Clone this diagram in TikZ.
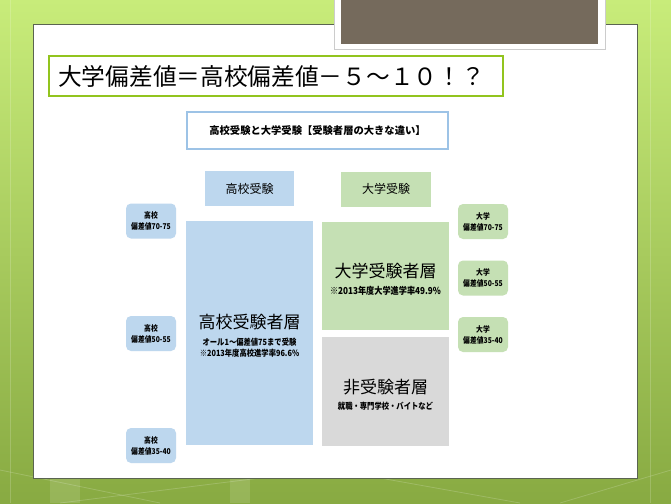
\documentclass[tikz,border=0pt]{standalone}
\usepackage{fontspec}
\setmainfont{Noto Sans CJK JP}
\newfontfamily\jp{Noto Sans CJK JP}
\newfontfamily\jpn[FakeStretch=0.85]{Noto Sans CJK JP}
\definecolor{bgtop}{RGB}{200,236,122}
\definecolor{bgbot}{RGB}{136,170,66}
\definecolor{bluefill}{RGB}{189,215,238}
\definecolor{greenfill}{RGB}{197,224,180}
\definecolor{greyfill}{RGB}{217,217,217}
\definecolor{hdrline}{RGB}{157,195,230}
\definecolor{titleline}{RGB}{146,196,30}
\definecolor{darkfill}{RGB}{117,106,92}
\definecolor{panelline}{RGB}{90,100,80}
\begin{document}
\begin{tikzpicture}[x=1pt,y=-1pt,
  box/.style={inner sep=0pt, outer sep=0pt, anchor=north west},
  panel/.style={box, fill=white, draw=panelline, line width=0.8pt},
  frame/.style={box, fill=white, draw=black!20, line width=0.6pt},
  dark/.style={box, fill=darkfill},
  titlebox/.style={box, fill=white, draw=titleline, line width=2.6pt},
  hdrbox/.style={inner sep=0pt, fill=white, draw=hdrline, line width=1.4pt, minimum width=261pt, minimum height=37pt, font=\jp\bfseries\fontsize{10.3}{12}\selectfont},
  collabel/.style={inner sep=0pt, minimum height=35pt, font=\jp\fontsize{12}{14}\selectfont},
  bigtitle/.style={inner sep=0pt, font=\jp\fontsize{17}{20}\selectfont},
  subtext/.style={inner sep=0pt, font=\jpn\bfseries\fontsize{8.6}{10}\selectfont},
  smallbox/.style={inner sep=0pt, rounded corners=5pt, minimum width=50pt, minimum height=35pt, align=center, font=\jpn\bfseries\fontsize{8}{11}\selectfont}
]
\useasboundingbox (0,0) rectangle (671,503);
\shade[top color=bgtop, bottom color=bgbot] (0,0) rectangle (671,503);
% faint background streaks
\begin{scope}[white, opacity=0.18, line width=0.8pt]
  \draw (0,470) -- (160,503);
  \draw (60,503) -- (260,478);
  \draw (380,478) -- (520,503);
  \draw (560,503) -- (671,470);
  \draw (10,0) -- (10,503);
  \draw (650,0) -- (650,503);
\end{scope}
\fill[white, opacity=0.12] (50,478) rectangle (80,503);
\fill[white, opacity=0.12] (230,478) rectangle (250,503);

% white panel
\node[panel, minimum width=604pt, minimum height=454pt] (panel) at (33,24) {};
% dark box at top
\node[frame, minimum width=271pt, minimum height=56pt] (frame) at (334,-7) {};
\node[dark, minimum width=257pt, minimum height=51pt] (darkbox) at (341,-7) {};

% title
\node[titlebox, minimum width=454pt, minimum height=40pt] (titlebox) at (49,56) {};
\node[inner sep=0pt, anchor=west, font=\jp\fontsize{23.7}{26}\selectfont] (title) at (58,76) {大学偏差値＝高校偏差値－５～１０！？};

% header
\node[hdrbox] (hdr) at (317.5,130.5) {高校受験と大学受験【受験者層の大きな違い】};

% column labels
\node[collabel, fill=bluefill, minimum width=89pt] (hlabel) at (249.5,188.5) {高校受験};
\node[collabel, fill=greenfill, minimum width=90pt] (ulabel) at (386,189) {大学受験};

% big boxes
\node[box, fill=bluefill, minimum width=127pt, minimum height=224pt] (hsbox) at (186,221) {};
\node[box, fill=greenfill, minimum width=127pt, minimum height=108pt] (usbox) at (322,222) {};
\node[box, fill=greyfill, minimum width=127pt, minimum height=109pt] (nsbox) at (322,337) {};

\node[bigtitle] (hst) at (249.5,322) {高校受験者層};
\node[subtext] (hs1) at (249.5,342) {オール1～偏差値75まで受験};
\node[subtext] (hs2) at (249.5,353) {※2013年度高校進学率96.6\%};

\node[bigtitle] (ust) at (385.5,271) {大学受験者層};
\node[subtext, font=\jpn\bfseries\fontsize{9.6}{11}\selectfont] (us1) at (385.5,291) {※2013年度大学進学率49.9\%};

\node[bigtitle] (nst) at (385.5,387) {非受験者層};
\node[subtext] (ns1) at (385.5,406) {就職・専門学校・バイトなど};

% small boxes left
\node[smallbox, fill=bluefill] (hA) at (151,221) {高校\\偏差値70-75};
\node[smallbox, fill=bluefill] (hB) at (151,333.5) {高校\\偏差値50-55};
\node[smallbox, fill=bluefill] (hC) at (151,445.5) {高校\\偏差値35-40};
% small boxes right
\node[smallbox, fill=greenfill] (uA) at (483,221.5) {大学\\偏差値70-75};
\node[smallbox, fill=greenfill] (uB) at (483,278) {大学\\偏差値50-55};
\node[smallbox, fill=greenfill] (uC) at (483,334.5) {大学\\偏差値35-40};
\end{tikzpicture}
\end{document}
